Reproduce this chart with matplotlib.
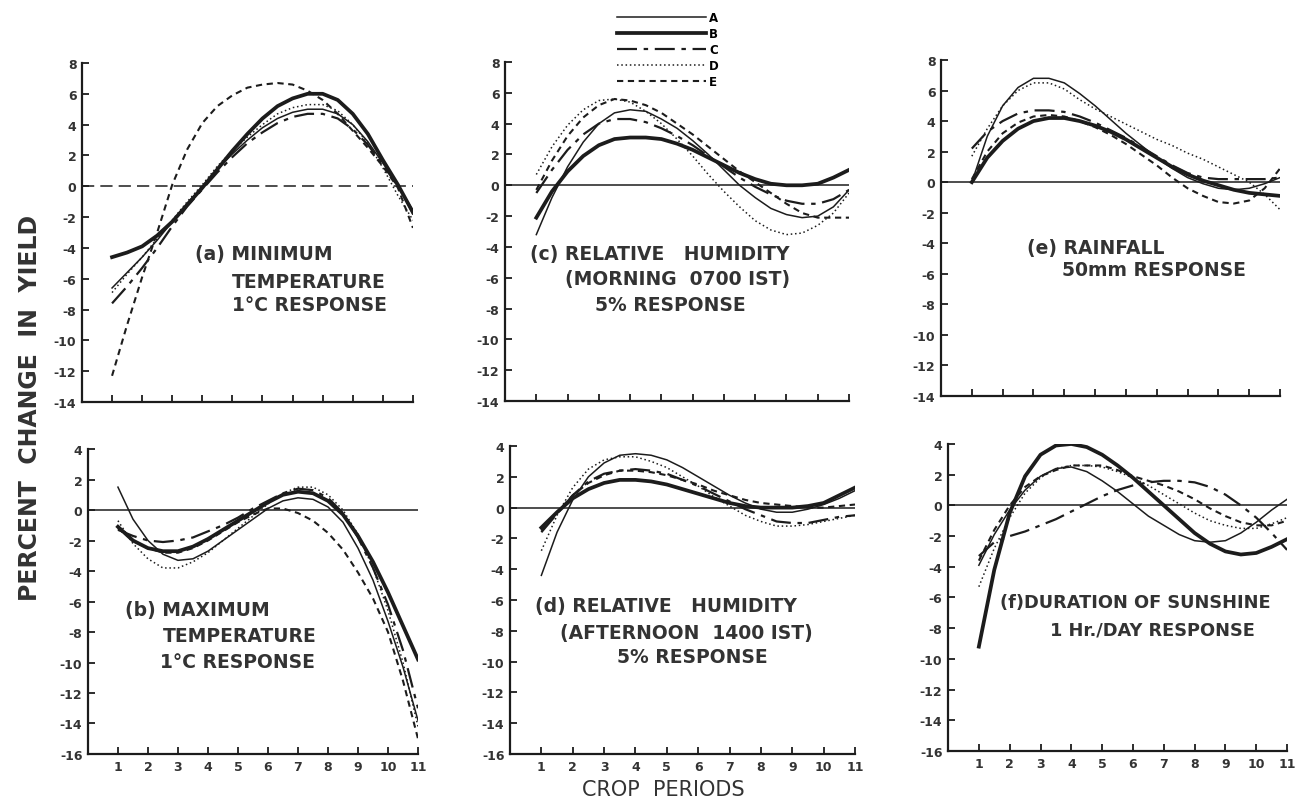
import matplotlib.pyplot as plt
from matplotlib.lines import Line2D

# crop periods (x) at which the curves were read
periods = [1, 1.5, 2, 2.5, 3, 3.5, 4, 4.5, 5, 5.5, 6, 6.5, 7, 7.5, 8, 8.5, 9, 9.5, 10, 10.5, 11]
curve_names = ['A', 'B', 'C', 'D', 'E']
x_ticks = [1, 2, 3, 4, 5, 6, 7, 8, 9, 10, 11]
y_ticks_top = [8, 6, 4, 2, 0, -2, -4, -6, -8, -10, -12, -14]
y_ticks_bottom = [4, 2, 0, -2, -4, -6, -8, -10, -12, -14, -16]

# (a) minimum temperature
min_temp = {
    'A': [-6.6, -5.6, -4.6, -3.5, -2.3, -1.1, 0.0, 1.1, 2.1, 3.0, 3.8, 4.4, 4.8, 5.0, 5.0, 4.7, 4.0, 2.9, 1.5, 0.1, -1.8],
    'B': [-4.6, -4.3, -3.9, -3.2, -2.3, -1.2, -0.1, 1.1, 2.3, 3.4, 4.4, 5.2, 5.7, 6.0, 6.0, 5.6, 4.7, 3.4, 1.7, 0.1, -1.7],
    'C': [-7.6, -6.5, -5.3, -4.0, -2.6, -1.3, -0.2, 0.9, 1.9, 2.8, 3.5, 4.1, 4.5, 4.7, 4.7, 4.4, 3.7, 2.7, 1.4, 0.0, -1.6],
    'D': [-6.9, -5.7, -4.6, -3.4, -2.2, -1.0, 0.1, 1.3, 2.3, 3.2, 4.0, 4.7, 5.1, 5.3, 5.3, 4.9, 4.0, 2.8, 1.2, -0.6, -2.2],
    'E': [-12.3, -9.0, -5.9, -3.0, 0.1, 2.4, 4.1, 5.2, 5.9, 6.4, 6.6, 6.7, 6.6, 6.2, 5.6, 4.7, 3.6, 2.5, 1.3, -0.1, -2.7],
}
# (b) maximum temperature
max_temp = {
    'A': [1.5, -0.6, -2.0, -2.9, -3.3, -3.2, -2.7, -2.0, -1.3, -0.6, 0.1, 0.6, 0.8, 0.7, 0.2, -0.8, -2.5, -4.6, -7.3, -10.3, -13.8],
    'B': [-1.1, -2.0, -2.5, -2.7, -2.7, -2.4, -1.9, -1.3, -0.7, -0.1, 0.5, 1.0, 1.2, 1.1, 0.6, -0.3, -1.7, -3.4, -5.4, -7.6, -9.8],
    'C': [-1.3, -1.7, -2.0, -2.1, -2.0, -1.8, -1.4, -1.0, -0.5, 0.1, 0.6, 1.1, 1.4, 1.3, 0.8, -0.2, -1.8, -3.8, -6.2, -9.2, -13.0],
    'D': [-0.7, -2.2, -3.2, -3.8, -3.8, -3.4, -2.8, -2.0, -1.2, -0.4, 0.4, 1.1, 1.5, 1.5, 1.0, 0.0, -1.6, -3.8, -6.6, -10.0, -14.2],
    'E': [-1.2, -2.0, -2.5, -2.8, -2.8, -2.5, -2.0, -1.4, -0.8, -0.3, 0.1, 0.1, -0.2, -0.7, -1.5, -2.6, -4.1, -5.8, -8.0, -11.2, -15.0],
}
# (c) relative humidity, morning
rh_morning = {
    'A': [-3.2, -0.8, 1.2, 2.8, 4.0, 4.7, 4.9, 4.8, 4.3, 3.7, 2.9, 2.0, 1.0, 0.0, -0.8, -1.5, -1.9, -2.1, -2.0, -1.4, -0.3],
    'B': [-2.1, -0.4, 0.9, 1.9, 2.6, 3.0, 3.1, 3.1, 3.0, 2.7, 2.3, 1.8, 1.3, 0.8, 0.4, 0.1, 0.0, 0.0, 0.1, 0.5, 1.0],
    'C': [-0.5, 1.0, 2.3, 3.3, 4.0, 4.3, 4.3, 4.1, 3.7, 3.2, 2.6, 1.9, 1.2, 0.5, -0.1, -0.6, -1.0, -1.2, -1.2, -0.9, -0.3],
    'D': [0.7, 2.5, 3.9, 4.9, 5.5, 5.6, 5.4, 4.8, 4.0, 3.0, 1.9, 0.7, -0.4, -1.4, -2.3, -2.9, -3.2, -3.1, -2.6, -1.8, -0.5],
    'E': [-0.3, 1.6, 3.2, 4.4, 5.2, 5.6, 5.5, 5.2, 4.7, 4.0, 3.3, 2.5, 1.7, 0.9, 0.2, -0.5, -1.2, -1.8, -2.1, -2.1, -2.1],
}
# (d) relative humidity, afternoon
rh_afternoon = {
    'A': [-4.4, -1.6, 0.5, 2.0, 2.9, 3.4, 3.5, 3.4, 3.1, 2.6, 2.0, 1.4, 0.8, 0.3, -0.1, -0.3, -0.3, -0.1, 0.2, 0.6, 1.1],
    'B': [-1.3, -0.3, 0.6, 1.2, 1.6, 1.8, 1.8, 1.7, 1.5, 1.2, 0.9, 0.6, 0.3, 0.1, 0.0, 0.0, 0.0, 0.1, 0.3, 0.8, 1.3],
    'C': [-1.6, -0.4, 0.8, 1.7, 2.2, 2.4, 2.5, 2.4, 2.2, 1.8, 1.4, 0.9, 0.4, -0.1, -0.5, -0.9, -1.0, -1.0, -0.8, -0.6, -0.5],
    'D': [-2.8, -0.5, 1.3, 2.5, 3.1, 3.3, 3.3, 3.0, 2.6, 2.0, 1.4, 0.7, 0.1, -0.5, -0.9, -1.2, -1.2, -1.1, -0.9, -0.7, -0.5],
    'E': [-1.5, -0.3, 0.8, 1.6, 2.1, 2.4, 2.4, 2.3, 2.1, 1.8, 1.5, 1.1, 0.8, 0.5, 0.3, 0.2, 0.1, 0.0, 0.0, 0.1, 0.2],
}
# (e) rainfall
rainfall = {
    'A': [0.0, 3.0, 5.0, 6.2, 6.8, 6.8, 6.5, 5.8, 5.0, 4.1, 3.2, 2.4, 1.6, 0.9, 0.3, -0.1, -0.4, -0.5, -0.4, -0.1, 0.3],
    'B': [0.0, 1.6, 2.7, 3.5, 4.0, 4.2, 4.2, 4.0, 3.7, 3.3, 2.8, 2.2, 1.6, 1.0, 0.5, 0.1, -0.2, -0.5, -0.7, -0.8, -0.9],
    'C': [2.2, 3.3, 4.0, 4.5, 4.7, 4.7, 4.6, 4.3, 3.9, 3.4, 2.9, 2.3, 1.7, 1.1, 0.6, 0.3, 0.2, 0.2, 0.2, 0.2, 0.3],
    'D': [1.7, 3.5, 5.0, 6.0, 6.5, 6.5, 6.1, 5.4, 4.8, 4.3, 3.8, 3.3, 2.8, 2.4, 1.9, 1.5, 1.0, 0.5, 0.0, -0.8, -1.8],
    'E': [0.2, 2.0, 3.2, 3.9, 4.3, 4.4, 4.3, 4.0, 3.6, 3.1, 2.5, 1.8, 1.1, 0.3, -0.4, -0.9, -1.3, -1.4, -1.2, -0.4, 0.9],
}
# (f) duration of sunshine
sunshine = {
    'A': [-3.9, -1.9, -0.3, 1.0, 1.9, 2.4, 2.5, 2.2, 1.6, 0.9, 0.1, -0.7, -1.3, -1.9, -2.3, -2.4, -2.3, -1.8, -1.1, -0.3, 0.4],
    'B': [-9.2, -4.2, -0.5, 1.9, 3.3, 3.9, 4.0, 3.8, 3.3, 2.6, 1.8, 0.9, 0.0, -0.9, -1.8, -2.5, -3.0, -3.2, -3.1, -2.7, -2.2],
    'C': [-3.3, -2.4, -2.0, -1.7, -1.3, -0.9, -0.4, 0.1, 0.6, 1.0, 1.3, 1.5, 1.6, 1.6, 1.5, 1.2, 0.7, 0.0, -0.8, -1.8, -2.9],
    'D': [-5.3, -2.8, -0.8, 0.8, 1.8, 2.4, 2.6, 2.6, 2.5, 2.2, 1.8, 1.3, 0.7, 0.1, -0.5, -1.0, -1.3, -1.5, -1.5, -1.2, -0.8],
    'E': [-3.6, -1.6, 0.0, 1.2, 1.9, 2.3, 2.6, 2.6, 2.6, 2.3, 1.9, 1.6, 1.3, 0.9, 0.4, -0.2, -0.7, -1.1, -1.3, -1.3, -1.0],
}

ink = '#1c1c1c'
letra = '#333333'
plt.rcParams['font.family'] = ['DejaVu Sans']
plt.rcParams['axes.unicode_minus'] = False

# line style of each curve
estilos = {
    'A': dict(lw=1.1, ls='-'),
    'B': dict(lw=2.7, ls='-'),
    'C': dict(lw=1.6, ls=(0, (9, 3, 2, 3))),
    'D': dict(lw=1.1, ls=(0, (1, 1.8))),
    'E': dict(lw=1.5, ls=(0, (3, 2.2))),
}


def desenhar_painel(fig, rect, curvas, y_ticks, rotulos, pos_texto, zero_ls='-',
                    mostrar_x=False, tam_texto=13.5):
    ax = fig.add_axes(rect)
    ax.axhline(0, color=ink, lw=1.1, ls=zero_ls)
    for nome in curve_names:
        ax.plot(periods, curvas[nome], color=ink, **estilos[nome])
    ax.set_xlim(0, 11)
    ax.set_ylim(y_ticks[-1], y_ticks[0])
    ax.set_xticks(x_ticks)
    ax.set_yticks(y_ticks)
    if mostrar_x:
        ax.set_xticklabels([str(v) for v in x_ticks])
    else:
        ax.set_xticklabels([])
    for lado in ['top', 'right']:
        ax.spines[lado].set_visible(False)
    for lado in ['left', 'bottom']:
        ax.spines[lado].set_linewidth(1.6)
        ax.spines[lado].set_color(ink)
    ax.tick_params(direction='in', length=5, width=1.3, colors=ink, labelsize=9, pad=4)
    for rotulo in ax.get_xticklabels() + ax.get_yticklabels():
        rotulo.set_fontweight('bold')
        rotulo.set_color(letra)
    for texto, (px, py) in zip(rotulos, pos_texto):
        ax.text(px, py, texto, transform=ax.transAxes, fontsize=tam_texto, fontweight='bold',
                color=letra, ha='left', va='center')
    return ax


fig = plt.figure(figsize=(13.01, 8.12), dpi=100)

desenhar_painel(fig, [0.0630, 0.5037, 0.2544, 0.4175], min_temp, y_ticks_top,
                ['(a) MINIMUM', 'TEMPERATURE', '1°C RESPONSE'],
                [(0.341, 0.437), (0.453, 0.354), (0.453, 0.289)], zero_ls=(0, (8, 4)))
desenhar_painel(fig, [0.0676, 0.0702, 0.2537, 0.3756], max_temp, y_ticks_bottom,
                ['(b) MAXIMUM', 'TEMPERATURE', '1°C RESPONSE'],
                [(0.112, 0.475), (0.227, 0.387), (0.218, 0.302)], mostrar_x=True)
desenhar_painel(fig, [0.3882, 0.5049, 0.2644, 0.4175], rh_morning, y_ticks_top,
                ['(c) RELATIVE   HUMIDITY', '(MORNING  0700 IST)', '5% RESPONSE'],
                [(0.073, 0.434), (0.174, 0.360), (0.262, 0.286)])
desenhar_painel(fig, [0.3920, 0.0702, 0.2652, 0.3793], rh_afternoon, y_ticks_bottom,
                ['(d) RELATIVE   HUMIDITY', '(AFTERNOON  1400 IST)', '5% RESPONSE'],
                [(0.072, 0.481), (0.145, 0.396), (0.310, 0.315)], mostrar_x=True)
desenhar_painel(fig, [0.7233, 0.5111, 0.2606, 0.4138], rainfall, y_ticks_top,
                ['(e) RAINFALL', '50mm RESPONSE'],
                [(0.254, 0.443), (0.357, 0.375)])
desenhar_painel(fig, [0.7287, 0.0739, 0.2606, 0.3781], sunshine, y_ticks_bottom,
                ['(f)DURATION OF SUNSHINE', '1 Hr./DAY RESPONSE'],
                [(0.153, 0.485), (0.301, 0.397)], mostrar_x=True, tam_texto=12.8)

# legend above panel (c)
handles = [Line2D([], [], color=ink, **estilos[n]) for n in curve_names]
leg = fig.legend(handles, curve_names, loc='upper left', bbox_to_anchor=(0.468, 0.995),
                 frameon=False, fontsize=8.5, handlelength=7.5, handletextpad=0.3,
                 labelspacing=0.25, borderpad=0.2)
for t in leg.get_texts():
    t.set_fontweight('bold')

fig.text(0.023, 0.498, 'PERCENT  CHANGE  IN  YIELD', rotation=90, ha='center', va='center',
         fontsize=17, fontweight='bold', color=letra)
fig.text(0.510, 0.027, 'CROP  PERIODS', ha='center', va='center', fontsize=15, color=letra)

fig.savefig('out.png', dpi=100, facecolor='white')
